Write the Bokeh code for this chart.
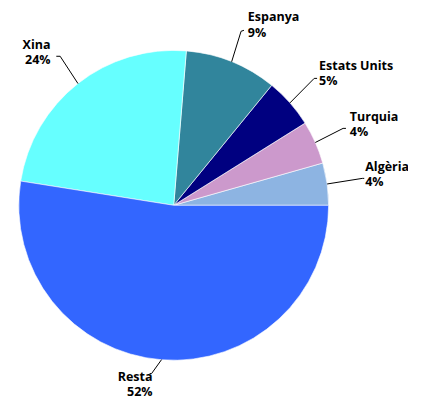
import numpy as np
from bokeh.plotting import figure
from bokeh.models import Range1d
from bokeh.core.properties import value
from bokeh.embed import file_html
from bokeh.resources import INLINE

# ---- data ----
countries = ["Algèria", "Turquia", "Estats Units", "Espanya", "Xina", "Resta"]
shares = [4.4, 4.5, 5.2, 9.6, 23.8, 52.5]
pct_labels = ["4%", "4%", "5%", "9%", "24%", "52%"]
colors = ["#8DB4E2", "#CC99CC", "#000080", "#31859C", "#66FFFF", "#3366FF"]

# ---- layout (reference pixel coordinates) ----
W, H = 408, 400          # figure size
REF_W, REF_H = 424, 416  # coordinate space mapped onto the figure
cx, cy = 180, 213
R = 161

def X(px):
    return px - cx

def Y(py):
    return cy - py

# label placement: (text x, cap-top y, align, elbow, end)
label_layout = [
    (379, 168, "left", (376, 185), (378, 185)),
    (363, 116, "left", (356, 133), (359, 133)),
    (331, 63, "left", (326, 81), (329, 81)),
    (257, 13, "left", (250, 32), (253, 31)),
    (52, 41.5, "right", (62, 58), (58, 58)),
    (158, 387, "right", (157, 388), (155, 388)),
]
CAP_OFF = 4.7
LINE_GAP = 16.0

p = figure(width=W, height=H,
           x_range=Range1d(X(0), X(REF_W)),
           y_range=Range1d(Y(REF_H), Y(0)),
           output_backend="svg", toolbar_location=None, min_border=0)
p.axis.visible = False
p.grid.visible = False
p.outline_line_color = None
p.background_fill_color = "white"
p.border_fill_color = "white"

vals = np.array(shares, dtype=float)
frac = vals / vals.sum()
ends = np.cumsum(frac) * 2 * np.pi
starts = ends - frac * 2 * np.pi
mids = (starts + ends) / 2

p.wedge(x=0, y=0, radius=R, start_angle=list(starts), end_angle=list(ends),
        direction="anticlock", fill_color=colors, line_color="white", line_width=0.6)

xs, ys = [], []
for m, (tx, ty, al, elb, end) in zip(mids, label_layout):
    sx, sy = R * np.cos(m), R * np.sin(m)
    xs.append([sx, X(elb[0]), X(end[0])])
    ys.append([sy, Y(elb[1]), Y(end[1])])
p.multi_line(xs=xs, ys=ys, line_color="black", line_width=1)

for name, pct, (tx, ty, al, elb, end) in zip(countries, pct_labels, label_layout):
    for k, t in enumerate([name, pct]):
        p.text(x=[X(tx)], y=[Y(ty - CAP_OFF + k * LINE_GAP)], text=[t],
               text_align=al, text_baseline="top",
               text_font=value("Open Sans"), text_font_style="bold",
               text_font_size="12.5px", text_color="black")

open("out.html", "w").write(file_html(p, INLINE))
